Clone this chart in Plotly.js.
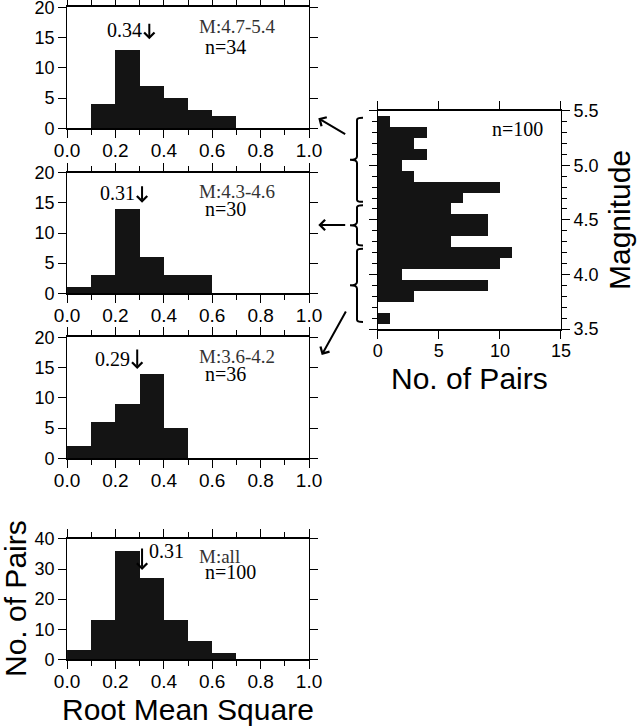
<!DOCTYPE html>
<html>
<head>
<meta charset="utf-8">
<script src="https://cdn.plot.ly/plotly-3.0.1.min.js"></script>
<style>body{margin:0;background:#fff;}#chart{width:639px;height:726px;}</style>
</head>
<body>
<div id="chart"></div>
<script>
"use strict";
// RMS histograms, bins of 0.1
var rmsBins = [0.05, 0.15, 0.25, 0.35, 0.45, 0.55, 0.65, 0.75, 0.85, 0.95];
var countsHigh = [0, 4, 13, 7, 5, 3, 2, 0, 0, 0];
var countsMid = [1, 3, 14, 6, 3, 3, 0, 0, 0, 0];
var countsLow = [2, 6, 9, 14, 5, 0, 0, 0, 0, 0];
var countsAll = [3, 13, 36, 27, 13, 6, 2, 0, 0, 0];
var medians = [0.34, 0.31, 0.29, 0.31];
var magLabels = ["M:4.7-5.4", "M:4.3-4.6", "M:3.6-4.2", "M:all"];
var nLabels = ["n=34", "n=30", "n=36", "n=100"];
// magnitude histogram
var magBins = [3.6, 3.7, 3.8, 3.9, 4.0, 4.1, 4.2, 4.3, 4.4, 4.5, 4.6, 4.7, 4.8, 4.9, 5.0, 5.1, 5.2, 5.3, 5.4];
var magCounts = [1, 0, 3, 9, 2, 10, 11, 6, 9, 9, 6, 7, 10, 3, 2, 4, 3, 4, 1];
var magGroups = [[4.65, 5.45], [4.25, 4.65], [3.55, 4.25]];

var sans = "Liberation Sans, Arial, sans-serif";
var serif = "Liberation Serif, Times New Roman, serif";
var barColor = "#141414";

var panels = [countsHigh, countsMid, countsLow, countsAll];
var sfx = ["", "2", "3", "4"];
var yDomains = [[0.8233, 0.990], [0.596, 0.7621], [0.3687, 0.5354], [0.0919, 0.2576]];
var yMax = [20, 20, 20, 40];
var yStep = [5, 5, 5, 10];

var traces = [];
var layout = {
  width: 639, height: 726,
  margin: {l: 0, r: 0, t: 0, b: 0},
  paper_bgcolor: "#fff", plot_bgcolor: "#fff",
  showlegend: false,
  bargap: 0,
  font: {family: sans, size: 18, color: "#000"},
  annotations: [],
  shapes: []
};

function boxAxis(extra) {
  var a = {
    showline: true, linewidth: 2, linecolor: "#000", mirror: "allticks",
    ticks: "outside", ticklen: 8, tickwidth: 1, tickcolor: "#000",
    showgrid: false, zeroline: false, fixedrange: true, ticklabeloverflow: "allow",
    tickfont: {family: sans, size: 18, color: "#000"}
  };
  for (var k in extra) a[k] = extra[k];
  return a;
}

var headY = [0.735, 0.751, 0.738, 0.742];
var arrLen = [17, 18, 21, 23];
var numY = [0.812, 0.828, 0.821, 0.896];
var mY = [0.843, 0.848, 0.845, 0.858];
var nY = [0.668, 0.703, 0.70, 0.725];

function note(o) {
  o.showarrow = false;
  if (!o.xanchor) o.xanchor = "center";
  o.yanchor = "middle";
  return o;
}

for (var i = 0; i < 4; i++) {
  var s = sfx[i];
  traces.push({
    type: "bar", x: rmsBins, y: panels[i], width: 0.1,
    marker: {color: barColor, line: {width: 0}},
    xaxis: "x" + s, yaxis: "y" + s, hoverinfo: "x+y"
  });
  layout["xaxis" + s] = boxAxis({
    domain: [0.1049, 0.4836], range: [0, 1], tick0: 0, dtick: 0.2, tickformat: ".1f",
    anchor: "y" + s, ticklabelstandoff: -4, tickfont: {family: sans, size: 19, color: "#000"},
    minor: {dtick: 0.1, ticks: "outside", ticklen: 5, tickcolor: "#000"}
  });
  layout["yaxis" + s] = boxAxis({
    domain: yDomains[i], range: [0, yMax[i]], dtick: yStep[i], anchor: "x" + s, linewidth: 1
  });
  // median arrow
  layout.annotations.push({
    xref: "x" + s, yref: "y" + s + " domain", x: medians[i], y: headY[i],
    ax: 0, ay: -arrLen[i], showarrow: true, arrowhead: 4, arrowwidth: 2, arrowsize: 1,
    arrowcolor: "#000", text: ""
  });
  layout.annotations.push(note({
    xref: "x" + s, yref: "y" + s + " domain", x: medians[i], y: numY[i],
    xanchor: i === 3 ? "left" : "right", xshift: i === 3 ? 5 : -5,
    text: medians[i].toFixed(2),
    font: {family: serif, size: 20, color: "#000"}
  }));
  layout.annotations.push(note({
    xref: "x" + s + " domain", yref: "y" + s + " domain", x: 0.537, y: mY[i],
    xanchor: "left", text: magLabels[i],
    font: {family: serif, size: 19, color: "#333"}
  }));
  layout.annotations.push(note({
    xref: "x" + s + " domain", yref: "y" + s + " domain", x: 0.562, y: nY[i],
    xanchor: "left", text: nLabels[i],
    font: {family: serif, size: 20, color: "#000"}
  }));
}

// magnitude panel
traces.push({
  type: "bar", orientation: "h", y: magBins, x: magCounts, width: 0.1,
  marker: {color: barColor, line: {width: 0}},
  xaxis: "x5", yaxis: "y5", hoverinfo: "x+y"
});
layout.xaxis5 = boxAxis({domain: [0.5911, 0.8779], range: [0, 15], dtick: 5, anchor: "y5",
  ticklabelstandoff: -4});
layout.yaxis5 = boxAxis({
  domain: [0.5468, 0.8475], range: [3.5, 5.5], dtick: 0.5, tickformat: ".1f", linewidth: 1,
  side: "right", anchor: "x5", minor: {dtick: 0.1, ticks: "outside", ticklen: 5, tickcolor: "#000"}
});
layout.annotations.push(note({
  xref: "x5 domain", yref: "y5 domain", x: 0.613, y: 0.918, xanchor: "left",
  text: "n=100", font: {family: serif, size: 20, color: "#000"}
}));

// braces next to the magnitude panel
var bx0 = 357 / 639, bx1 = 363 / 639, bxn = 350 / 639;
magGroups.forEach(function (g) {
  var lo = g[0] + 0.015, hi = g[1] - 0.015, mid = (g[0] + g[1]) / 2, e = 0.03, d = 0.02;
  layout.shapes.push({
    type: "path", xref: "paper", yref: "y5",
    path: "M" + bx1 + "," + hi + " Q" + bx0 + "," + hi + " " + bx0 + "," + (hi - d) +
      " L" + bx0 + "," + (mid + e) + " Q" + bx0 + "," + mid + " " + bxn + "," + mid +
      " Q" + bx0 + "," + mid + " " + bx0 + "," + (mid - e) +
      " L" + bx0 + "," + (lo + d) + " Q" + bx0 + "," + lo + " " + bx1 + "," + lo,
    line: {color: "#000", width: 2}
  });
});

// arrows from braces to panels
var arrows = [[318.3, 118.3, 28.4, 16.7], [318.3, 225, 28.4, 0], [321.7, 355, 25, -45]];
arrows.forEach(function (a) {
  layout.annotations.push({
    xref: "paper", yref: "paper", x: a[0] / 639, y: 1 - a[1] / 726,
    ax: a[2], ay: a[3], showarrow: true, arrowhead: 4, arrowwidth: 2, arrowsize: 1,
    arrowcolor: "#000", text: ""
  });
});

// axis titles
var titleFont = {family: sans, size: 30, color: "#000"};
layout.annotations.push(
  note({xref: "paper", yref: "paper", x: 188 / 639, y: 1 - 709.5 / 726, text: "Root Mean Square",
   font: titleFont}),
  note({xref: "paper", yref: "paper", x: 15 / 639, y: 1 - 599 / 726, text: "No. of Pairs",
   textangle: -90, font: titleFont}),
  note({xref: "paper", yref: "paper", x: 469 / 639, y: 1 - 378.5 / 726, text: "No. of Pairs",
   font: titleFont}),
  note({xref: "paper", yref: "paper", x: 620 / 639, y: 1 - 220 / 726, text: "Magnitude",
   textangle: -90, font: titleFont})
);

Plotly.newPlot("chart", traces, layout, {displayModeBar: false, staticPlot: true});
</script>
</body>
</html>
